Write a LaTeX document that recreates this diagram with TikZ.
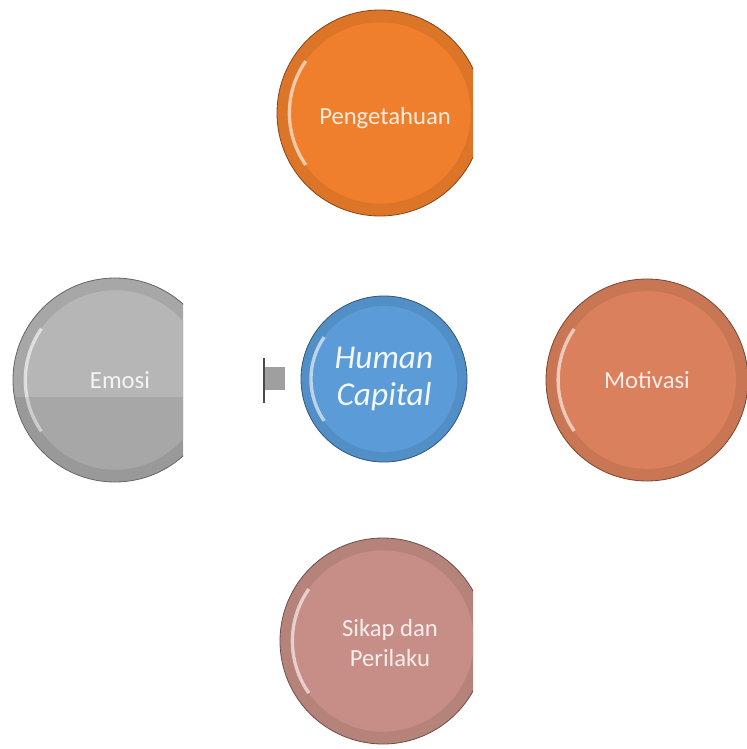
\documentclass[tikz,border=0pt]{standalone}
\usepackage{fontspec}
\setmainfont{Carlito}
\usepackage{xcolor}
\usetikzlibrary{positioning}

\definecolor{orangeA}{HTML}{EF7F2C}
\definecolor{salmonA}{HTML}{DB805C}
\definecolor{roseA}{HTML}{C68E86}
\definecolor{greyA}{HTML}{B6B6B6}
\definecolor{blueA}{HTML}{5A9BD8}

\tikzset{
  bead/.style n args={2}{circle, inner sep=0pt, minimum size=#2,
    fill=#1!92!black, draw=#1!55!black, line width=0.6pt,
    text=#1!15!white, align=center, font=\fontsize{18.5}{23}\selectfont,
    path picture={
      \fill[#1] (path picture bounding box.center) circle (0.44*#2);
      \draw[white, opacity=0.6, line width=2.5pt]
        (path picture bounding box.center) ++(145:0.44*#2) arc (145:215:0.44*#2);
    }},
}

\begin{document}
\begin{tikzpicture}[x=0.75pt, y=-0.75pt]
\useasboundingbox (0,0) rectangle (746,749);

% top
\begin{scope}
\clip (0,0) rectangle (473,749);
\node[bead={orangeA}{154.5pt}] (know) at (380,113) {};
\node[bead={roseA}{154.5pt}] (attitude) at (383,641) {};
\end{scope}
\node[text=orangeA!15!white, font=\fontsize{18.5}{23}\selectfont] (knowtxt) at (385,118) {Pengetahuan};
\node[text=roseA!15!white, font=\fontsize{18.5}{23}\selectfont, align=center] (attitudetxt) at (390,643) {Sikap dan\\Perilaku};

% left
\begin{scope}
\clip (0,0) rectangle (183,749);
\node[bead={greyA}{153pt}] (emotion) at (115,380) {};
\clip (emotion.center) circle (76pt);
\fill[black, opacity=0.08] (0,397) rectangle (183,749);
\end{scope}
\node[text=greyA!15!white, font=\fontsize{18.5}{23}\selectfont] (emotiontxt) at (120,380) {Emosi};

% right
\node[bead={salmonA}{151.5pt}] (motive) at (647,380) {Motivasi};

% centre
\node[bead={blueA}{124.5pt}, font=\fontsize{25}{28}\selectfont\itshape, text=white!92!blueA] (human) at (384,379) {Human\\Capital};

% stub
\fill[gray!75] (264,367) rectangle (285,390);
\draw[gray!60!black, line width=0.8pt] (264,358) -- (264,403);
\end{tikzpicture}
\end{document}
